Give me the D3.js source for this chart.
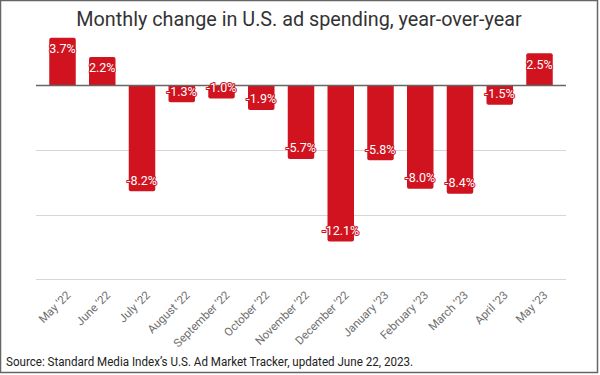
<!DOCTYPE html>
<html>
<head>
<meta charset="utf-8">
<script src="https://cdn.jsdelivr.net/npm/d3@7"></script>
<style>
  body { margin: 0; background: #fff; }
  svg { display: block; font-family: Roboto, "Noto Sans", sans-serif; }
</style>
</head>
<body>
<div id="chart"></div>
<script>
// data
var months = ["May '22", "June '22", "July '22", "August '22", "September '22", "October '22",
  "November '22", "December '22", "January '23", "February '23", "March '23", "April '23", "May '23"];
var changes = [3.7, 2.2, -8.2, -1.3, -1.0, -1.9, -5.7, -12.1, -5.8, -8.0, -8.4, -1.5, 2.5];
var gridTicks = [-15, -10, -5];

var W = 600, H = 375;
var margin = { top: 21, right: 34, bottom: 96, left: 36 };
var width = W - margin.left - margin.right,
  height = H - margin.top - margin.bottom;
var red = "#d0131f";

var svg = d3.select("#chart").append("svg")
  .attr("width", W)
  .attr("height", H);

// frame
svg.append("rect")
  .attr("x", 0.5).attr("y", 0.5)
  .attr("width", W - 3).attr("height", H - 3)
  .attr("fill", "#fff")
  .attr("stroke", "#666")
  .attr("stroke-width", 1.5);

svg.append("text")
  .attr("x", 299)
  .attr("y", 26)
  .attr("text-anchor", "middle")
  .attr("font-size", "19.8px")
  .attr("fill", "#333")
  .text("Monthly change in U.S. ad spending, year-over-year");

var g = svg.append("g")
  .attr("transform", "translate(" + margin.left + "," + margin.top + ")");

var x = d3.scaleBand()
  .domain(months)
  .range([0, width])
  .paddingInner(1 / 3)
  .paddingOuter(1 / 3);

var y = d3.scaleLinear().domain([5, -15]).range([0, height]);

// gridlines
g.selectAll(".grid")
  .data(gridTicks)
  .enter()
  .append("line")
  .attr("x1", 0).attr("x2", width)
  .attr("y1", function (d) { return Math.round(y(d)) + 0.5; })
  .attr("y2", function (d) { return Math.round(y(d)) + 0.5; })
  .attr("stroke", "#d6d6d6")
  .attr("stroke-width", 1.2);

// bars, rounded at the far end only
var r = 2;
function barPath(d, i) {
  var x0 = x(months[i]), w = x.bandwidth();
  var y0 = y(0), y1 = y(d);
  var s = d >= 0 ? 1 : -1;
  return "M" + x0 + "," + y0 + "V" + (y1 + s * r) + "Q" + x0 + "," + y1 + " " + (x0 + r) + "," + y1 +
    "H" + (x0 + w - r) + "Q" + (x0 + w) + "," + y1 + " " + (x0 + w) + "," + (y1 + s * r) + "V" + y0 + "Z";
}

g.selectAll(".bar")
  .data(changes)
  .enter()
  .append("path")
  .attr("class", "bar")
  .attr("d", barPath)
  .attr("fill", red);

// zero line
g.append("line")
  .attr("x1", 0).attr("x2", width)
  .attr("y1", y(0)).attr("y2", y(0))
  .attr("stroke", "#666")
  .attr("stroke-width", 1.3);

// value labels
g.selectAll(".lbl")
  .data(changes)
  .enter()
  .append("text")
  .attr("class", "lbl")
  .attr("x", function (d, i) { return x(months[i]) + x.bandwidth() / 2; })
  .attr("y", function (d) { return d >= 0 ? y(d) + 11 : y(d) - 11; })
  .attr("dy", "0.35em")
  .attr("text-anchor", "middle")
  .attr("font-size", "12.5px")
  .attr("fill", "#fff")
  .attr("stroke", red)
  .attr("stroke-width", 2)
  .attr("paint-order", "stroke")
  .attr("stroke-linejoin", "round")
  .text(function (d) { return d.toFixed(1) + "%"; });

// x axis labels
var xAxis = g.append("g")
  .attr("transform", "translate(0," + (height + 14) + ")")
  .call(d3.axisBottom(x).tickSize(0).tickPadding(0));
xAxis.select(".domain").remove();
xAxis.selectAll("text")
  .attr("transform", "translate(" + 6 + ",0)rotate(-45)")
  .attr("dy", "0.35em")
  .style("text-anchor", "end")
  .attr("font-family", "Roboto, sans-serif")
  .attr("font-size", "11.5px")
  .attr("fill", "#6e6e6e");

svg.append("text")
  .attr("x", 6)
  .attr("y", 366)
  .attr("font-size", "12.5px")
  .attr("fill", "#222")
  .attr("textLength", 407)
  .attr("lengthAdjust", "spacingAndGlyphs")
  .text("Source: Standard Media Index\u2019s U.S. Ad Market Tracker, updated June 22, 2023.");
</script>
</body>
</html>
